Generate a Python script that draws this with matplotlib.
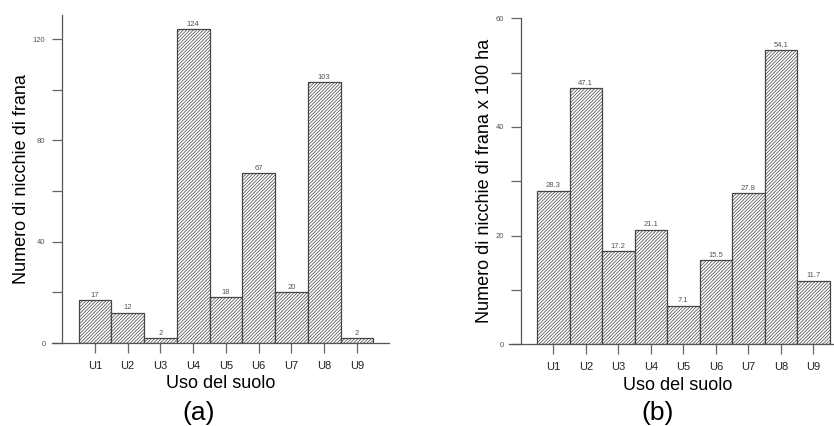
import matplotlib
matplotlib.use("Agg")
import matplotlib.pyplot as plt

plt.rcParams['font.family'] = ['Liberation Sans', 'DejaVu Sans']
plt.rcParams['hatch.linewidth'] = 0.5
plt.rcParams['hatch.color'] = '#444444'

categories = ['U1', 'U2', 'U3', 'U4', 'U5', 'U6', 'U7', 'U8', 'U9']
counts = [17, 12, 2, 124, 18, 67, 20, 103, 2]
density = [28.3, 47.1, 17.2, 21.1, 7.1, 15.5, 27.8, 54.1, 11.7]
labels_a = ['17', '12', '2', '124', '18', '67', '20', '103', '2']
labels_b = ['28.3', '47.1', '17.2', '21.1', '7.1', '15.5', '27.8', '54.1', '11.7']

fig = plt.figure(figsize=(8.34, 4.26), dpi=100)

def make_panel(rect, values, vlabels, xlim, ylim, major, minor, ylabel, tag, tag_x):
    ax = fig.add_axes(rect)
    xs = list(range(1, len(values) + 1))
    ax.bar(xs, values, width=1.0, color='white', edgecolor='#444444',
           linewidth=0.9, hatch='//////////', zorder=2)
    for x, v, t in zip(xs, values, vlabels):
        ax.text(x, v + ylim[1] * 0.004, t, ha='center', va='bottom',
                fontsize=5.5, color='#555555')
    ax.set_xlim(*xlim)
    ax.set_ylim(*ylim)
    ax.spines['top'].set_visible(False)
    ax.spines['right'].set_visible(False)
    ax.spines['left'].set_position(('data', 0))
    for s in ('left', 'bottom'):
        ax.spines[s].set_color('#555555')
        ax.spines[s].set_linewidth(0.9)
    ax.set_xticks(xs)
    ax.set_xticklabels(categories, fontsize=8, color='#222222')
    ax.tick_params(axis='x', direction='out', length=7, width=0.9,
                   color='#666666', pad=6)
    yt = list(range(0, int(ylim[1]) + 1, minor))
    ax.set_yticks(yt)
    ax.set_yticklabels([str(v) if v % major == 0 else '' for v in yt],
                       fontsize=5.5, color='#555555')
    ax.tick_params(axis='y', direction='out', length=7, width=0.9,
                   color='#666666', pad=5)
    ax.set_xlabel('Uso del suolo', fontsize=13, labelpad=3)
    ax.set_ylabel(ylabel, fontsize=13, labelpad=2)
    fig.text(tag_x, 0.03, tag, fontsize=19, ha='center', va='center')
    return ax

ax1 = make_panel([52 / 834, 83 / 426, 337 / 834, 328 / 426], counts, labels_a,
                 (-0.31, 9.98), (0, 129.5), 40, 20,
                 'Numero di nicchie di frana', '(a)', 199 / 834)
ax2 = make_panel([509 / 834, 81.7 / 426, 337 / 834, 326 / 426], density, labels_b,
                 (-0.36, 10.0), (0, 60), 20, 10,
                 'Numero di nicchie di frana x 100 ha', '(b)', 658 / 834)

fig.savefig('out.png', dpi=100)
